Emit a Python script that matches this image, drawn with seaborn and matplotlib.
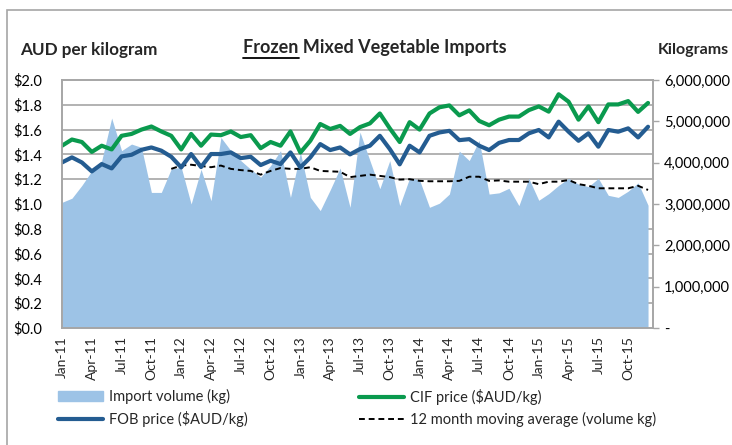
"""
Frozen mixed vegetable imports - monthly price and volume chart
"""

import numpy as np
import pandas as pd
import matplotlib
matplotlib.use('Agg')  # Non-interactive backend
import matplotlib.pyplot as plt
import seaborn as sns
from matplotlib.ticker import FuncFormatter, MultipleLocator
from matplotlib.patches import Patch, Rectangle
from matplotlib.lines import Line2D

# Monthly categories Jan-11 .. Dec-15
months = list(pd.date_range('2011-01-01', periods=60, freq='MS').strftime('%b-%y'))

# Import volume (kg)
volume_kg = [
    3.04e6, 3.14e6, 3.45e6, 3.80e6, 4.05e6, 5.08e6, 4.29e6, 4.45e6, 4.37e6, 3.28e6, 3.28e6, 3.85e6,
    3.89e6, 3.00e6, 3.84e6, 3.08e6, 4.61e6, 4.29e6, 4.05e6, 3.84e6, 3.65e6, 3.93e6, 4.29e6, 3.16e6,
    4.25e6, 3.16e6, 2.84e6, 3.34e6, 3.87e6, 2.92e6, 4.74e6, 4.05e6, 3.37e6, 4.05e6, 2.96e6, 3.63e6,
    3.58e6, 2.92e6, 3.02e6, 3.24e6, 4.28e6, 4.05e6, 4.54e6, 3.24e6, 3.27e6, 3.38e6, 2.96e6, 3.62e6,
    3.09e6, 3.25e6, 3.45e6, 3.62e6, 3.48e6, 3.42e6, 3.62e6, 3.21e6, 3.16e6, 3.31e6, 3.51e6, 2.97e6,
]

# CIF price ($AUD/kg)
cif_price = [
    1.47, 1.52, 1.50, 1.42, 1.47, 1.44, 1.55, 1.565, 1.60, 1.625, 1.585, 1.55,
    1.44, 1.565, 1.47, 1.56, 1.555, 1.585, 1.54, 1.555, 1.45, 1.50, 1.47, 1.585,
    1.415, 1.51, 1.645, 1.605, 1.63, 1.565, 1.62, 1.65, 1.73, 1.61, 1.50, 1.66,
    1.60, 1.73, 1.78, 1.795, 1.715, 1.755, 1.67, 1.635, 1.68, 1.705, 1.705, 1.757,
    1.787, 1.745, 1.885, 1.825, 1.68, 1.787, 1.66, 1.803, 1.803, 1.83, 1.743, 1.815,
]

# FOB price ($AUD/kg)
fob_price = [
    1.335, 1.376, 1.335, 1.263, 1.322, 1.287, 1.384, 1.397, 1.437, 1.456, 1.43, 1.381,
    1.295, 1.403, 1.298, 1.403, 1.403, 1.416, 1.37, 1.381, 1.314, 1.349, 1.322, 1.416,
    1.295, 1.376, 1.483, 1.435, 1.456, 1.40, 1.443, 1.47, 1.55, 1.443, 1.32, 1.47,
    1.416, 1.55, 1.577, 1.59, 1.515, 1.523, 1.47, 1.435, 1.493, 1.516, 1.516, 1.57,
    1.597, 1.537, 1.664, 1.583, 1.51, 1.57, 1.462, 1.597, 1.583, 1.61, 1.537, 1.623,
]

# 12 month moving average (volume kg) - starts at Dec-11
moving_avg = [np.nan] * 11 + [
    3.85e6,
    3.93e6, 3.95e6, 3.92e6, 3.89e6, 3.93e6, 3.85e6, 3.82e6, 3.80e6, 3.71e6, 3.80e6, 3.87e6, 3.85e6,
    3.85e6, 3.89e6, 3.80e6, 3.79e6, 3.78e6, 3.65e6, 3.68e6, 3.71e6, 3.68e6, 3.65e6, 3.59e6, 3.60e6,
    3.56e6, 3.55e6, 3.55e6, 3.55e6, 3.56e6, 3.66e6, 3.66e6, 3.56e6, 3.57e6, 3.54e6, 3.54e6, 3.54e6,
    3.48e6, 3.54e6, 3.54e6, 3.58e6, 3.48e6, 3.44e6, 3.38e6, 3.38e6, 3.38e6, 3.38e6, 3.44e6, 3.34e6,
]

AREA = '#9DC3E6'
GREEN = '#0A9A4E'
FOB = '#245C91'
GRID = '#A6A6A6'

sns.set_theme(style='white')
plt.rcParams['font.family'] = ['Lato', 'DejaVu Sans']

W, H = 732, 445
fig = plt.figure(figsize=(W / 100, H / 100), dpi=100)
ax = fig.add_axes([62 / W, 117 / H, 591 / W, 248 / H])
ax2 = ax.twinx()
# price lines on top of the volume area
ax.set_zorder(ax2.get_zorder() + 1)
ax.patch.set_visible(False)

df = pd.DataFrame({
    'idx': np.arange(len(months)),
    'volume': volume_kg,
    'cif': cif_price,
    'fob': fob_price,
    'ma': moving_avg,
})

# volume area + moving average on right axis
ax2.fill_between(df['idx'], df['volume'], color=AREA, lw=0, zorder=2)
sns.lineplot(data=df.dropna(), x='idx', y='ma', ax=ax2, color='black',
             linewidth=1.4, linestyle=(0, (3, 2)), zorder=3)

# prices on left axis
sns.lineplot(data=df, x='idx', y='cif', ax=ax, color=GREEN, linewidth=3)
sns.lineplot(data=df, x='idx', y='fob', ax=ax, color=FOB, linewidth=3)

ax.set_xlim(0, 59.5)
ax.set_ylim(0, 2.0)
ax2.set_ylim(0, 6e6)
for a in (ax, ax2):
    a.set_xlabel('')
    a.set_ylabel('')

# gridlines at $0.2 steps, behind the area
ax2.yaxis.set_minor_locator(MultipleLocator(6e5))
ax2.grid(which='minor', color=GRID, linewidth=1.2)
ax2.grid(which='major', visible=False)
ax2.set_axisbelow(True)
ax2.tick_params(which='minor', length=0)

ax.yaxis.set_major_locator(MultipleLocator(0.2))
ax.yaxis.set_major_formatter(FuncFormatter(lambda v, p: f'${v:.1f}'))
ax.tick_params(axis='y', length=0, pad=14, labelsize=10.5, labelcolor='black')

ax2.yaxis.set_major_locator(MultipleLocator(1e6))
ax2.yaxis.set_major_formatter(FuncFormatter(lambda v, p: '-' if v == 0 else f'{v:,.0f}'))
ax2.tick_params(axis='y', which='major', length=4, width=1, color=GRID,
                pad=4, labelsize=10.5, labelcolor='black', direction='out')

ax.set_xticks(df['idx'][::3])
ax.set_xticklabels(months[::3], rotation=90, fontsize=10)
ax.tick_params(axis='x', length=0, pad=6)

for a in (ax, ax2):
    for s in a.spines.values():
        s.set_color(GRID)
        s.set_linewidth(1.2)

# axis titles and chart title
fig.text(20 / W, 1 - 50 / H, 'AUD per kilogram', fontsize=12.3, fontweight='bold', va='center')
fig.text(729 / W, 1 - 50 / H, 'Kilograms', fontsize=11.5, fontweight='bold',
         ha='right', va='center')
title = fig.text(375 / W, 1 - 48 / H, 'Frozen Mixed Vegetable Imports', fontsize=13,
                 fontweight='bold', ha='center', va='center')

# underline the word "Frozen"
renderer = fig.canvas.get_renderer()
tb = title.get_window_extent(renderer)
probe = fig.text(0, 0, 'Frozen', fontsize=13, fontweight='bold')
fw = probe.get_window_extent(renderer).width
probe.remove()
uy = tb.y0 - 1
fig.add_artist(Line2D([tb.x0 / W, (tb.x0 + fw) / W], [uy / H, uy / H],
                      color='black', linewidth=1.3, transform=fig.transFigure))

# legend, two columns
leg_kw = dict(loc='upper left', frameon=False, fontsize=10.5, handlelength=3.1,
              handletextpad=0.4, labelspacing=0.45, borderpad=0, borderaxespad=0)
leg1 = fig.legend(handles=[Patch(color=AREA), Line2D([], [], color=FOB, lw=3)],
                  labels=['Import volume (kg)', 'FOB price ($AUD/kg)'],
                  bbox_to_anchor=(58 / W, 1 - 389 / H), **leg_kw)
leg2 = fig.legend(handles=[Line2D([], [], color=GREEN, lw=3),
                           Line2D([], [], color='black', lw=1.4, linestyle=(0, (3, 2)))],
                  labels=['CIF price ($AUD/kg)', '12 month moving average (volume kg)'],
                  bbox_to_anchor=(359 / W, 1 - 389 / H), **leg_kw)

# chart border (cut off at right and bottom)
fig.add_artist(Rectangle((7 / W, -0.1), 2, (1 - 10 / H) + 0.1, transform=fig.transFigure,
                         fill=False, edgecolor=GRID, linewidth=1.2, clip_on=False))

fig.savefig('out.png', dpi=100)
plt.close(fig)
